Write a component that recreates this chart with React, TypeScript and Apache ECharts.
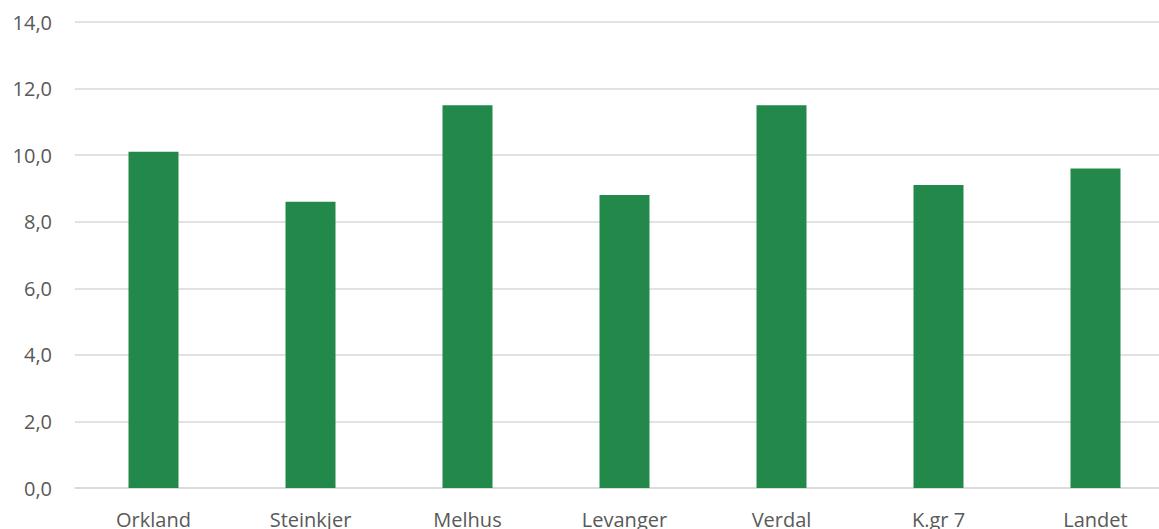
import React, { useEffect, useRef } from "react";
import * as echarts from "echarts";

const categories = ["Orkland", "Steinkjer", "Melhus", "Levanger", "Verdal", "K.gr 7", "Landet"];
const values = [10.1, 8.6, 11.5, 8.8, 11.5, 9.1, 9.6];

export default function App() {
  const ref = useRef<HTMLDivElement>(null);
  useEffect(() => {
    document.body.style.margin = "0";
    const chart = echarts.init(ref.current!, null, { renderer: "svg" });
    chart.setOption({
      animation: false,
      grid: { left: 75, right: 0, top: 22, bottom: 40, containLabel: false },
      xAxis: {
        type: "category",
        data: categories,
        axisTick: { show: false },
        axisLine: { lineStyle: { color: "#d9d9d9", width: 1.5 } },
        axisLabel: { color: "#595959", fontSize: 20, fontFamily: "Open Sans", margin: 21 },
      },
      yAxis: {
        type: "value",
        min: 0,
        max: 14,
        interval: 2,
        axisLine: { show: false },
        axisTick: { show: false },
        splitLine: { lineStyle: { color: "#d9d9d9", width: 1.5 } },
        axisLabel: {
          color: "#595959",
          fontSize: 20,
          fontFamily: "Open Sans",
          margin: 23,
          formatter: (v: number) => v.toFixed(1).replace(".", ","),
        },
      },
      series: [
        {
          type: "bar",
          data: values,
          barWidth: 50,
          itemStyle: { color: "#22894A" },
        },
      ],
    });
    return () => chart.dispose();
  }, []);
  return (
    <div style={{ width: 1159, height: 529, overflow: "hidden" }}>
      <div ref={ref} style={{ width: 1174, height: 529 }} />
    </div>
  );
}
